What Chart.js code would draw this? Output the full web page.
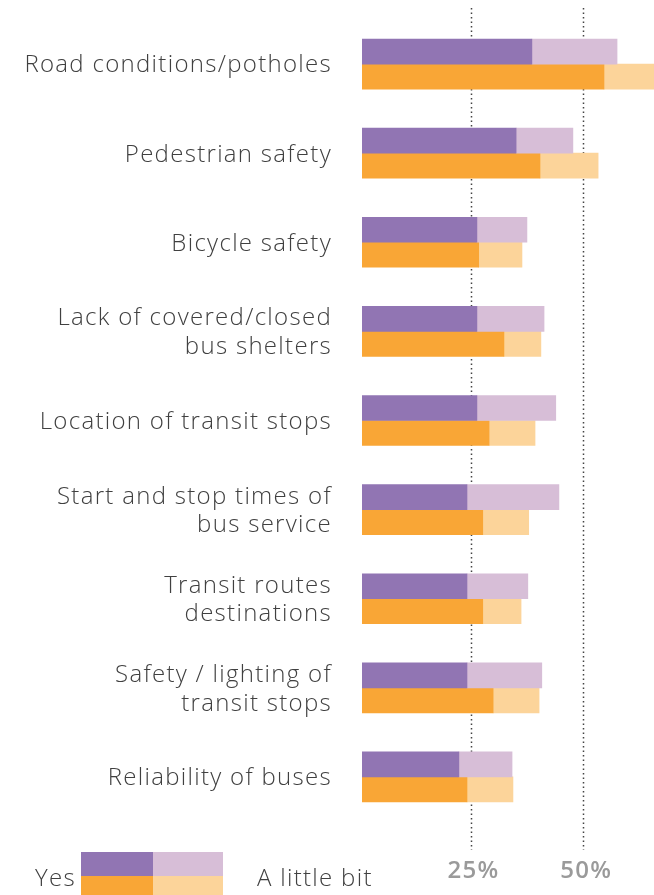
<!DOCTYPE html>
<html>
<head>
<meta charset="utf-8">
<script src="https://cdn.jsdelivr.net/npm/chart.js@4/dist/chart.umd.min.js"></script>
<style>
  html, body { margin: 0; padding: 0; background: #fff; }
  #wrap { position: relative; width: 654px; height: 895px; }
  canvas { position: absolute; left: 0; top: 0; }
  .lg { position: absolute; font-family: 'Open Sans', sans-serif; font-weight: 300; font-size: 24px; letter-spacing: 1.3px; color: #404040; line-height: 1; }
  .sw { position: absolute; }
</style>
</head>
<body>
<div id="wrap">
  <canvas id="c" width="654" height="895"></canvas>
  <div class="sw" style="left:81px;top:852px;width:72px;height:24px;background:#9175B3"></div>
  <div class="sw" style="left:153px;top:852px;width:70px;height:24px;background:#D7BED7"></div>
  <div class="sw" style="left:81px;top:876px;width:72px;height:19px;background:#F9A636"></div>
  <div class="sw" style="left:153px;top:876px;width:70px;height:19px;background:#FCD49A"></div>
  <div class="lg" style="right:578px;top:865px;">Yes</div>
  <div class="lg" style="left:257px;top:865px;">A little bit</div>
</div>
<script>
// Categories
const categories = [
  "Road conditions/potholes",
  "Pedestrian safety",
  "Bicycle safety",
  ["Lack of covered/closed", "bus shelters"],
  "Location of transit stops",
  ["Start and stop times of", "bus service"],
  ["Transit routes", "destinations"],
  ["Safety / lighting of", "transit stops"],
  "Reliability of buses"
];
// Purple group (%)
const purpleYes    = [38.6, 35.1, 26.4, 26.4, 26.4, 24.2, 24.2, 24.2, 22.4];
const purpleLittle = [18.9, 12.6, 11.1, 14.9, 17.5, 20.4, 13.5, 16.6, 11.8];
// Orange group (%)
const orangeYes    = [54.6, 40.4, 26.8, 32.4, 29.1, 27.7, 27.7, 30.0, 24.2];
const orangeLittle = [11.5, 12.9,  9.6,  8.2, 10.2, 10.2,  8.5, 10.2, 10.2];
// Axis tick labels
const tickValues = [25, 50];
const tickLabels = ["25%", "50%"];

const dotLines = {
  id: 'dotLines',
  beforeDraw(chart) {
    chart.ctx.letterSpacing = '1.3px';
  },
  beforeDatasetsDraw(chart) {
    const ctx = chart.ctx, x = chart.scales.x;
    ctx.save();
    ctx.strokeStyle = '#444';
    ctx.lineWidth = 1.5;
    ctx.setLineDash([1.5, 3]);
    tickValues.forEach(v => {
      const px = Math.round(x.getPixelForValue(v)) + 0.5;
      ctx.beginPath();
      ctx.moveTo(px, 8);
      ctx.lineTo(px, 850);
      ctx.stroke();
    });
    ctx.restore();
  }
};

new Chart(document.getElementById('c'), {
  type: 'bar',
  data: {
    labels: categories,
    datasets: [
      { label: 'Yes', data: purpleYes, backgroundColor: '#9175B3', stack: 'p' },
      { label: 'A little bit', data: purpleLittle, backgroundColor: '#D7BED7', stack: 'p' },
      { label: 'Yes', data: orangeYes, backgroundColor: '#F9A636', stack: 'o' },
      { label: 'A little bit', data: orangeLittle, backgroundColor: '#FCD49A', stack: 'o' }
    ]
  },
  options: {
    indexAxis: 'y',
    responsive: false,
    animation: false,
    barThickness: 25,
    layout: { padding: { top: 19.5, left: 0, right: 0, bottom: 0 } },
    plugins: { legend: { display: false }, tooltip: { enabled: false } },
    scales: {
      x: {
        stacked: true,
        min: 0.9,
        max: 65.7,
        grid: { display: false, drawTicks: false },
        border: { display: false },
        afterBuildTicks(s) { s.ticks = tickValues.map(v => ({ value: v })); },
        afterFit(s) { s.height = 73.5; s.paddingLeft = 0; s.paddingRight = 0; },
        ticks: {
          padding: 35,
          labelOffset: 3,
          maxRotation: 0,
          autoSkip: false,
          color: '#9a9a9a',
          font: { family: 'Open Sans', size: 24, weight: 600 },
          callback(v) { const i = tickValues.indexOf(v); return i >= 0 ? tickLabels[i] : ''; }
        }
      },
      y: {
        stacked: true,
        grid: { display: false, drawTicks: false },
        border: { display: false },
        afterFit(s) { s.width = 362; s.paddingTop = 0; s.paddingBottom = 0; },
        ticks: {
          padding: 30,
          labelOffset: 1.5,
          color: '#404040',
          font: { family: 'Open Sans', size: 24, weight: 300, lineHeight: 1.2 }
        }
      }
    }
  },
  plugins: [dotLines]
});
</script>
</body>
</html>
